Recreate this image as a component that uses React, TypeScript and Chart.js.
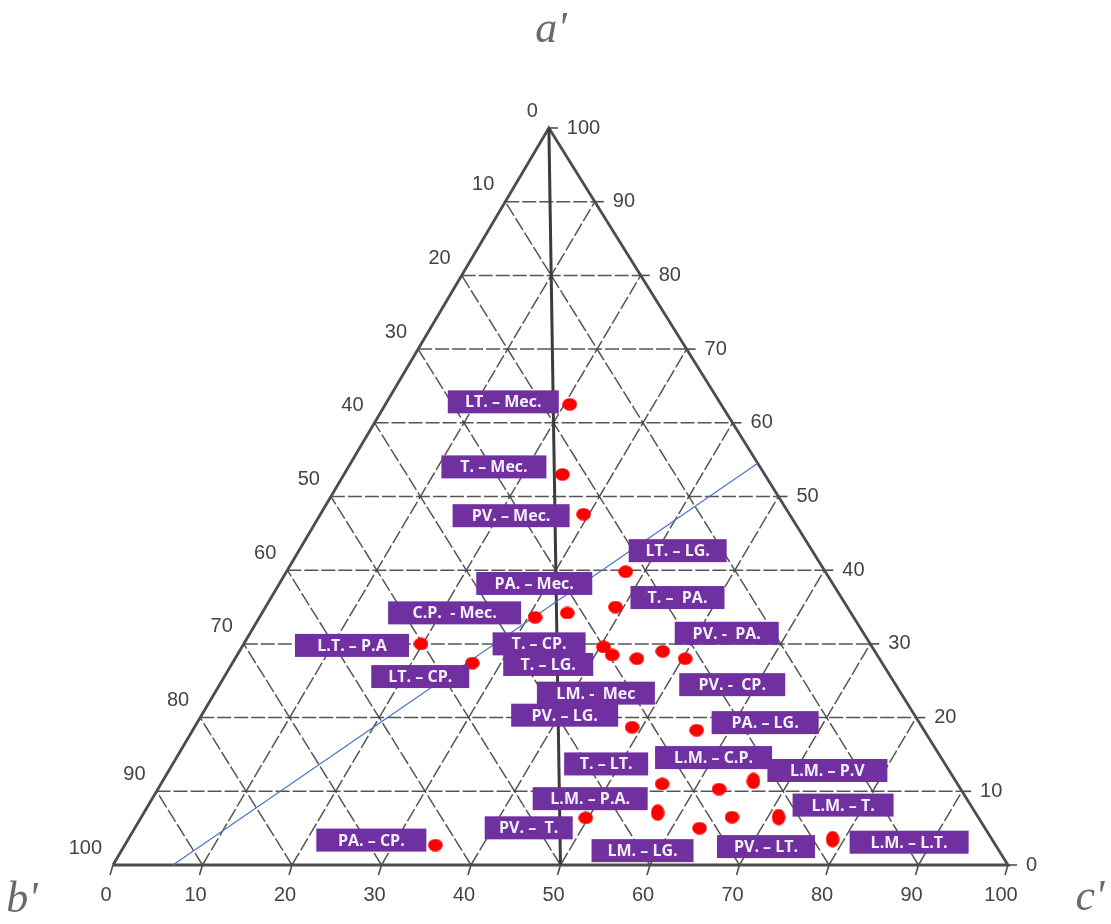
import React, { useEffect, useRef } from "react";
import { Chart, registerables } from "chart.js";

Chart.register(...registerables);

// ---------- data ----------
const TICK_VALUES = [0, 10, 20, 30, 40, 50, 60, 70, 80, 90, 100];
const GRID_STEPS = [10, 20, 30, 40, 50, 60, 70, 80, 90];

const POINT_LABELS = [
  "LT. – Mec.",
  "T. – Mec.",
  "PV. – Mec.",
  "LT. – LG.",
  "T. –  PA.",
  "C.P.  - Mec.",
  "PA. – Mec.",
  "L.T. – P.A",
  "LT. – CP.",
  "T. – CP.",
  "T. – LG.",
  "LM. -  Mec",
  "PV. -  PA.",
  "PV. -  CP.",
  "PV. – LG.",
  "PA. – LG.",
  "T. – LT.",
  "L.M. – C.P.",
  "L.M. – P.V",
  "L.M. – P.A.",
  "LM. – LG.",
  "PV. – LT.",
  "L.M. – T.",
  "L.M. – L.T.",
  "PV. –  T.",
  "PA. – CP.",
];

// a' (top component) and c' (bottom axis component), in %
const A_VALUES = [
  62.5, 53.0, 47.6, 39.8, 35.0, 33.6, 34.2, 30.0, 27.4, 29.6, 28.5, 28.0, 29.0,
  28.0, 18.7, 18.3, 11.0, 10.3, 11.4, 7.1, 5.0, 6.5, 6.5, 3.5, 6.4, 2.7,
];
const C_VALUES = [
  20.6, 24.4, 29.4, 37.9, 39.1, 30.8, 34.1, 19.8, 26.8, 40.4, 41.9, 44.9, 47.3,
  50.3, 48.9, 56.3, 56.0, 62.7, 66.0, 57.4, 63.1, 66.0, 71.2, 78.7, 49.7, 34.7,
];

// blue reference line, ends given as (a', c')
const BLUE_LINE_A = [0, 54.5];
const BLUE_LINE_C = [6.7, 45.5];

// ---------- layout / style ----------
// label box: centre offset from its point (px) and box width (px)
const LABEL_LAYOUT: [number, number, number][] = [
  [-66.5, -2.5, 111],
  [-68.5, -7.5, 105],
  [-72.5, 1.5, 117],
  [52, -21, 98],
  [62, -9.5, 94],
  [-80.5, -4.5, 133],
  [-33, -29.5, 116],
  [-69, 1.5, 114],
  [-52, 13.5, 98],
  [-64.5, -3, 93],
  [-64, 9.5, 90],
  [-41, 34.5, 118],
  [64, -18, 104],
  [47, 26, 106],
  [-67.5, -12, 107],
  [68.5, -7.5, 107],
  [-56, -20, 84],
  [-5.5, -31.5, 117],
  [74, -10.5, 120],
  [-67.5, -14, 115],
  [-57, 22.5, 102],
  [34, 29.5, 98],
  [64.5, -12, 101],
  [76.5, 3, 119],
  [-57, 10, 88],
  [-64, -5, 110],
];
const TALL_POINTS = [18, 19, 22, 23];
const APEX_SHIFT = 0.487; // horizontal position of the apex (scan geometry)

const toXY = (a: number, c: number) => ({ x: c + APEX_SHIFT * a, y: a });

const GRID_COLOR = "rgba(66,66,66,0.9)";
const EDGE_COLOR = "#4d4d4d";
const BOX_COLOR = "#7030A0";

function ellipseImage(w: number, h: number) {
  const c = document.createElement("canvas");
  c.width = w;
  c.height = h;
  const g = c.getContext("2d")!;
  g.fillStyle = "#ff0000";
  g.beginPath();
  g.ellipse(w / 2, h / 2, w / 2 - 0.2, h / 2 - 0.2, 0, 0, Math.PI * 2);
  g.fill();
  return c;
}

function seg(data: { x: number; y: number }[], color: string, width: number, dash: number[] = []) {
  return {
    data,
    showLine: true,
    borderColor: color,
    borderWidth: width,
    borderDash: dash,
    pointRadius: 0,
    fill: false,
    clip: false as any,
  };
}

const decorPlugin = {
  id: "ternaryDecor",
  afterDatasetsDraw(chart: any) {
    const { ctx } = chart;
    const xs = chart.scales.x;
    const ys = chart.scales.y;
    const px = (a: number, c: number) => {
      const p = toXY(a, c);
      return [xs.getPixelForValue(p.x), ys.getPixelForValue(p.y)];
    };
    ctx.save();
    ctx.strokeStyle = EDGE_COLOR;
    ctx.lineWidth = 1.6;
    ctx.fillStyle = "#444";
    ctx.font = '20px "Liberation Sans", Arial, sans-serif';
    TICK_VALUES.forEach((v) => {
      // right side: a'
      const [rx, ry] = px(v, 100 - v);
      ctx.beginPath();
      ctx.moveTo(rx, ry);
      ctx.lineTo(rx + 9, ry);
      ctx.stroke();
      ctx.textAlign = "left";
      ctx.textBaseline = "middle";
      ctx.fillText(String(v), rx + 18, ry);
      // left side: b'
      const [lx, ly] = px(100 - v, 0);
      ctx.textAlign = "right";
      ctx.fillText(String(v), lx - 11, ly - 17);
      // bottom: c'
      const [bx, by] = px(0, v);
      ctx.beginPath();
      ctx.moveTo(bx, by);
      ctx.lineTo(bx - 3, by + 10);
      ctx.stroke();
      ctx.textAlign = "center";
      ctx.fillText(String(v), bx - 7, by + 30);
    });

    // axis titles
    ctx.fillStyle = "#6a6a6a";
    ctx.font = 'italic 44px "Liberation Serif", serif';
    ctx.textAlign = "center";
    ctx.textBaseline = "middle";
    const [ax, ay] = px(100, 0);
    ctx.fillText("a'", ax + 2, ay - 98);
    const [lbx, lby] = px(0, 0);
    ctx.fillText("b'", lbx - 91, lby + 35);
    const [rbx, rby] = px(0, 100);
    ctx.fillText("c'", rbx + 82, rby + 33);

    // label boxes
    ctx.font = '700 16px "Open Sans", sans-serif';
    POINT_LABELS.forEach((label, i) => {
      const [x0, y0] = px(A_VALUES[i], C_VALUES[i]);
      const [dx, dy, w] = LABEL_LAYOUT[i];
      const cx = x0 + dx;
      const cy = y0 + dy;
      const h = 23;
      ctx.fillStyle = BOX_COLOR;
      ctx.fillRect(cx - w / 2, cy - h / 2, w, h);
      ctx.fillStyle = "#f4f0fa";
      ctx.textAlign = "center";
      ctx.textBaseline = "middle";
      ctx.fillText(label, cx, cy + 1);
    });
    ctx.restore();
  },
};

export default function App() {
  const ref = useRef<HTMLCanvasElement | null>(null);

  useEffect(() => {
    if (!ref.current) return;
    const wide = ellipseImage(15, 13);
    const tall = ellipseImage(14, 17);

    const datasets: any[] = [];
    datasets.push({
      data: A_VALUES.map((a, i) => toXY(a, C_VALUES[i])),
      pointStyle: (c: any) => (TALL_POINTS.includes(c.dataIndex) ? tall : wide),
      pointRadius: 8,
      showLine: false,
      clip: false,
    });
    // blue line
    datasets.push(
      seg(
        [toXY(BLUE_LINE_A[0], BLUE_LINE_C[0]), toXY(BLUE_LINE_A[1], BLUE_LINE_C[1])],
        "#4a76c6",
        1.2
      )
    );
    // median line
    datasets.push(seg([toXY(100, 0), toXY(0, 50)], "#3c3c3c", 3));
    // outer triangle
    datasets.push(seg([toXY(0, 0), toXY(0, 100), toXY(100, 0), toXY(0, 0)], EDGE_COLOR, 2.8));
    // grid
    GRID_STEPS.forEach((k) => {
      datasets.push(seg([toXY(k, 0), toXY(k, 100 - k)], GRID_COLOR, 1.5, [14, 3]));
      datasets.push(seg([toXY(0, k), toXY(100 - k, k)], GRID_COLOR, 1.5, [14, 3]));
      datasets.push(seg([toXY(0, 100 - k), toXY(100 - k, 0)], GRID_COLOR, 1.5, [14, 3]));
    });

    const chart = new Chart(ref.current, {
      type: "scatter",
      data: { datasets },
      options: {
        animation: false,
        responsive: false,
        devicePixelRatio: 1,
        layout: { padding: { left: 113, right: 103, top: 128, bottom: 59 } },
        scales: {
          x: { type: "linear", min: 0, max: 100, display: false },
          y: { type: "linear", min: 0, max: 100, display: false },
        },
        plugins: { legend: { display: false }, tooltip: { enabled: false } },
      },
      plugins: [decorPlugin],
    } as any);
    return () => chart.destroy();
  }, []);

  return (
    <div style={{ position: "absolute", left: 0, top: 0, width: 1111, height: 924, background: "#fff" }}>
      <canvas ref={ref} width={1111} height={924} style={{ width: 1111, height: 924 }} />
    </div>
  );
}
